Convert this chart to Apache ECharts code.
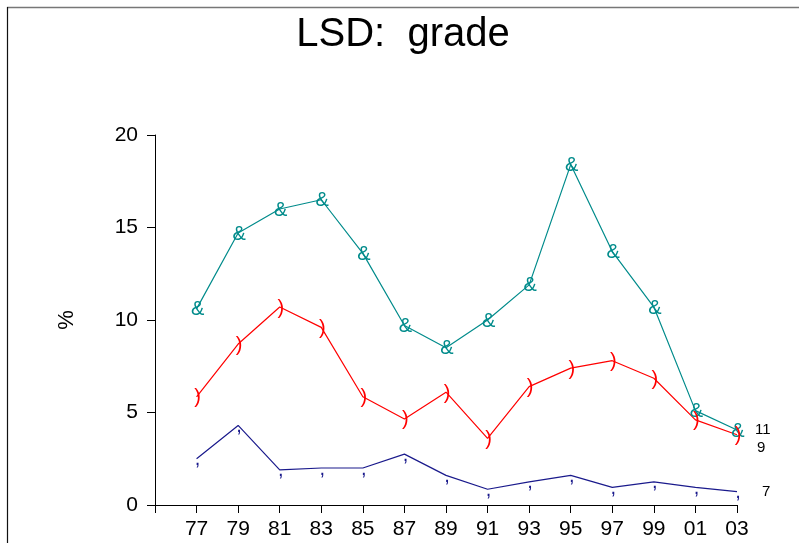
<!DOCTYPE html>
<html>
<head>
<meta charset="utf-8">
<script src="https://cdn.jsdelivr.net/npm/echarts@6/dist/echarts.min.js"></script>
<style>
  html, body { margin: 0; padding: 0; background: #fff; }
  #main { width: 799px; height: 543px; }
</style>
</head>
<body>
<div id="main"></div>
<script>
const years = [1977, 1979, 1981, 1983, 1985, 1987, 1989, 1991, 1993, 1995, 1997, 1999, 2001, 2003];
const grade11 = [10.6, 14.7, 16.0, 16.5, 13.6, 9.7, 8.5, 10.0, 11.9, 18.4, 13.7, 10.7, 5.1, 4.05];
const grade9 = [5.85, 8.7, 10.7, 9.6, 5.85, 4.65, 6.1, 3.6, 6.4, 7.4, 7.8, 6.85, 4.6, 3.8];
const grade7 = [2.5, 4.3, 1.9, 2.0, 2.0, 2.75, 1.6, 0.85, 1.25, 1.6, 0.95, 1.25, 0.95, 0.72];
const yTicks = [0, 5, 10, 15, 20];
const titleText = 'LSD:  grade';

const FONT = '"Liberation Sans", Arial, Helvetica, sans-serif';

function pairs(vals) { return years.map((y, i) => [y, vals[i]]); }

function mkSeries(name, vals, color, glyph, endLabelText, endOffset) {
  return {
    name: name,
    type: 'line',
    data: pairs(vals),
    symbol: 'circle',
    symbolSize: 1,
    itemStyle: { color: 'transparent' },
    lineStyle: { color: color, width: 1.2 },
    label: {
      show: true,
      position: 'inside',
      formatter: glyph,
      color: color,
      fontFamily: FONT,
      fontSize: 20,
      offset: [1, 1]
    },
    endLabel: {
      show: true,
      formatter: endLabelText,
      color: '#000',
      fontFamily: FONT,
      fontSize: 15,
      distance: 0,
      offset: endOffset
    },
    emphasis: { disabled: true },
    animation: false,
    z: 3
  };
}

const chart = echarts.init(document.getElementById('main'), null, { renderer: 'canvas' });
chart.setOption({
  animation: false,
  backgroundColor: '#fff',
  grid: { left: 155, right: 62, top: 135, bottom: 38, containLabel: false },
  xAxis: {
    type: 'value',
    min: 1975,
    max: 2003,
    interval: 2,
    axisLine: { show: true, lineStyle: { color: '#000', width: 1 } },
    axisTick: { show: true, length: 8, lineStyle: { color: '#000' } },
    splitLine: { show: false },
    axisLabel: {
      color: '#000',
      fontFamily: FONT,
      fontSize: 21,
      margin: 14,
      formatter: function (v) { return v === 1975 ? '' : String(v % 100).padStart(2, '0'); }
    }
  },
  yAxis: {
    type: 'value',
    min: yTicks[0],
    max: yTicks[yTicks.length - 1],
    interval: 5,
    name: '%',
    nameLocation: 'middle',
    nameRotate: 90,
    nameGap: 77,
    nameTextStyle: { color: '#000', fontFamily: FONT, fontSize: 22 },
    axisLine: { show: true, lineStyle: { color: '#000', width: 1 } },
    axisTick: { show: true, length: 8, lineStyle: { color: '#000' } },
    splitLine: { show: false },
    axisLabel: { color: '#000', fontFamily: FONT, fontSize: 21, margin: 17 }
  },
  graphic: [
    { type: 'line', shape: { x1: 7, y1: 7.5, x2: 799, y2: 7.5 }, style: { stroke: '#777', lineWidth: 1.5 }, silent: true },
    { type: 'line', shape: { x1: 7.5, y1: 7, x2: 7.5, y2: 543 }, style: { stroke: '#111', lineWidth: 1.2 }, silent: true },
    { type: 'text', x: 403, y: 35, style: { text: titleText, fill: '#000', font: '40px ' + FONT, textAlign: 'center', textVerticalAlign: 'middle' }, silent: true }
  ],
  series: [
    mkSeries('11', grade11, '#008b8b', '&', '11', [18, 0]),
    mkSeries('9', grade9, '#ff0000', ')', '9', [20, 13]),
    mkSeries('7', grade7, '#1a1a8c', ',', '7', [25, 0])
  ]
});
</script>
</body>
</html>
